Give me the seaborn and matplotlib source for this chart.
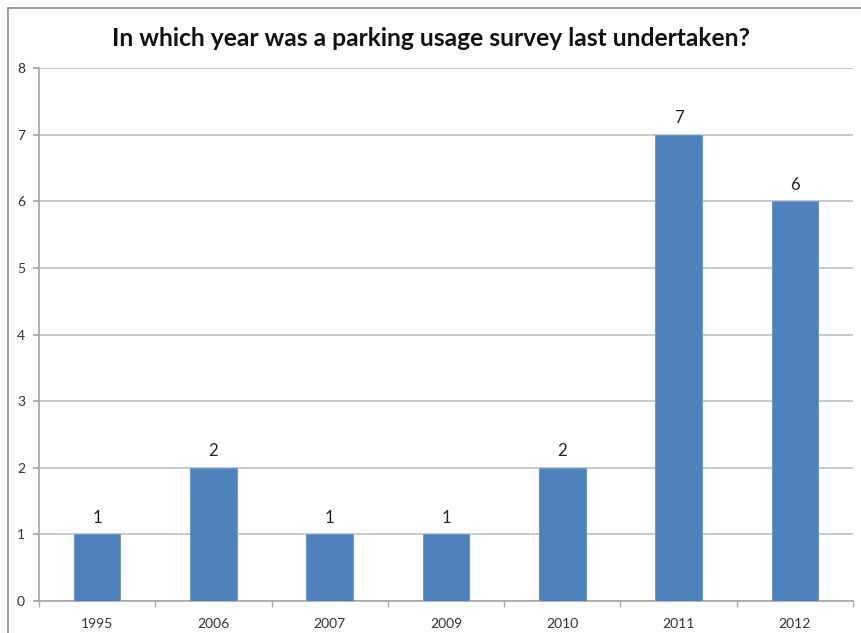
import matplotlib
matplotlib.use("Agg")
import matplotlib.pyplot as plt
import seaborn as sns
import pandas as pd

years = ["1995", "2006", "2007", "2009", "2010", "2011", "2012"]
counts = [1, 2, 1, 1, 2, 7, 6]
title = "In which year was a parking usage survey last undertaken?"

sns.set_theme(style="white")
plt.rcParams["font.family"] = ["Lato", "DejaVu Sans"]

df = pd.DataFrame({"year": years, "count": counts})

fig = plt.figure(figsize=(8.62, 6.33), dpi=100)
ax = fig.add_axes([39 / 862, 1 - 601 / 633, (853 - 39) / 862, (601 - 68) / 633])

sns.barplot(data=df, x="year", y="count", color="#4f81bd", saturation=1,
            width=0.4, ax=ax, zorder=3, edgecolor="#6f99cc", linewidth=0.8)

ax.set_ylim(0, 8)
ax.set_yticks(range(0, 9))
ax.yaxis.grid(True, color="#c0c0c0", linewidth=1.2, zorder=0)
ax.set_xlabel("")
ax.set_ylabel("")
for s in ["top", "right"]:
    ax.spines[s].set_visible(False)
for s in ["left", "bottom"]:
    ax.spines[s].set_color("#a6a6a6")
    ax.spines[s].set_linewidth(1.2)

ax.tick_params(axis="y", left=True, length=4, color="#a6a6a6", labelsize=10,
               labelcolor="#333333", pad=6)
ax.tick_params(axis="x", bottom=False, labelsize=10, labelcolor="#333333", pad=6)
# separator ticks between categories
ax.set_xticks([i + 0.5 for i in range(-1, len(years))], minor=True)
ax.tick_params(axis="x", which="minor", bottom=True, length=4, color="#a6a6a6")
ax.set_xlim(-0.5, len(years) - 0.5)

for c in ax.containers:
    ax.bar_label(c, fmt="%d", padding=6, fontsize=12, color="#222222")

fig.text(0.5, 1 - 38 / 633, title, ha="center", va="center",
         fontsize=17.7, fontweight="bold", color="#111111")

# outer chart frame
fig.add_artist(plt.Line2D([8 / 862, 8 / 862], [0, 1 - 8 / 633],
                          transform=fig.transFigure, color="#8c8c8c", lw=1.2))
fig.add_artist(plt.Line2D([8 / 862, 1], [1 - 8 / 633, 1 - 8 / 633],
                          transform=fig.transFigure, color="#8c8c8c", lw=1.2))

fig.savefig("out.png", dpi=100)
